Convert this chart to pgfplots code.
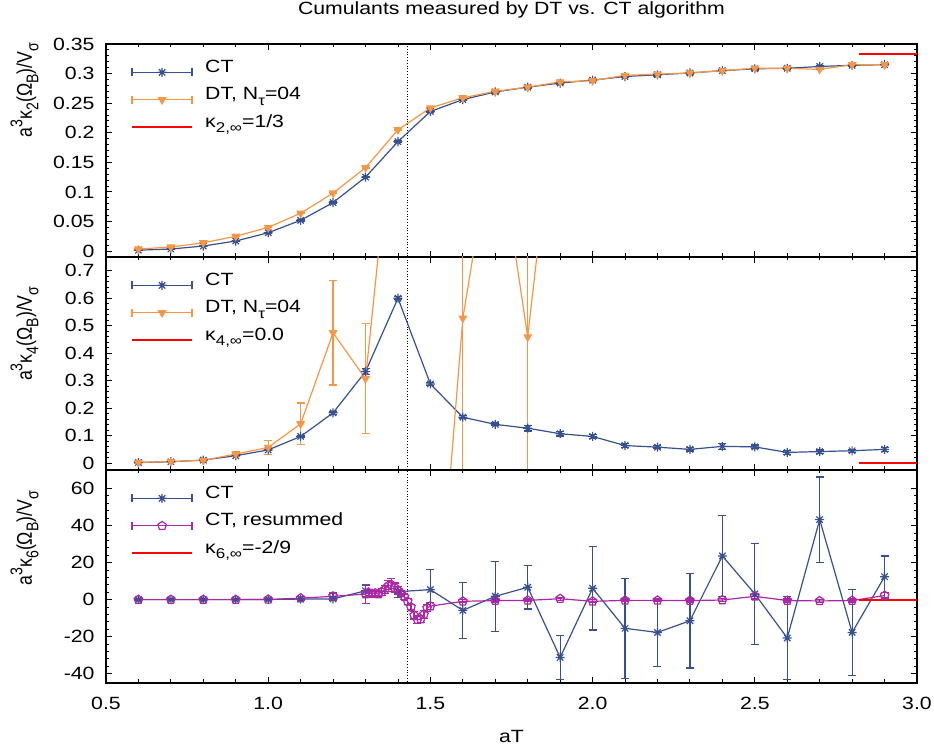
\documentclass[border=0pt]{standalone}
\usepackage{fontspec}
\setmainfont{Liberation Sans}[FakeStretch=1.2]
\newfontfamily\yfont{Liberation Sans}
\usepackage{pgfplots}
\pgfplotsset{compat=1.18}
\definecolor{ctblue}{RGB}{55,80,145}
\definecolor{dtorange}{RGB}{247,150,68}
\definecolor{respurple}{RGB}{170,40,165}
\newcommand\sups[1]{\raisebox{0.45em}{\scalebox{0.8}{#1}}}
\newcommand\subs[1]{\raisebox{-0.3em}{\scalebox{0.8}{#1}}}
\pgfdeclareplotmark{gstar}{%
  \pgfpathmoveto{\pgfqpoint{-\pgfplotmarksize}{0pt}}\pgfpathlineto{\pgfqpoint{\pgfplotmarksize}{0pt}}%
  \pgfpathmoveto{\pgfqpoint{0pt}{-\pgfplotmarksize}}\pgfpathlineto{\pgfqpoint{0pt}{\pgfplotmarksize}}%
  \pgfpathmoveto{\pgfqpoint{-0.707\pgfplotmarksize}{-0.707\pgfplotmarksize}}\pgfpathlineto{\pgfqpoint{0.707\pgfplotmarksize}{0.707\pgfplotmarksize}}%
  \pgfpathmoveto{\pgfqpoint{-0.707\pgfplotmarksize}{0.707\pgfplotmarksize}}\pgfpathlineto{\pgfqpoint{0.707\pgfplotmarksize}{-0.707\pgfplotmarksize}}%
  \pgfusepathqstroke}
\pgfplotsset{
  errleg/.style={legend image code/.code={%
    \draw[##1, mark repeat=2, mark phase=2] plot coordinates {(0bp,0bp) (30bp,0bp) (60bp,0bp)};
    \draw[##1] (0bp,-4bp) -- (0bp,4bp) (60bp,-4bp) -- (60bp,4bp);}},
  lineleg/.style={legend image code/.code={\draw[##1] (0bp,0bp) -- (60bp,0bp);}},
  errb/.style={error bars/y dir=both, error bars/y explicit,
    error bars/error bar style={line width=1.2bp},
    error bars/error mark options={rotate=90, mark size=4bp, line width=1.2bp}},
  ctstyle/.style={ctblue, line width=1.2bp, mark=gstar, mark size=4.5bp, errleg, errb},
  dtstyle/.style={dtorange, line width=1.2bp, mark=triangle*, mark size=4bp, mark options={rotate=180}, errleg, errb},
  resstyle/.style={respurple, line width=1.2bp, mark=pentagon, mark size=4.5bp, errleg, errb},
  limstyle/.style={red, line width=2.2bp, lineleg},
  every axis/.append style={
    scale only axis, width=811bp, height=213bp,
    xmin=0.5, xmax=3.0,
    xtick={0.5,1,1.5,2,2.5,3}, minor x tick num=4, minor y tick num=4,
    tick align=inside, major tick length=6bp, minor tick length=3.5bp,
    axis line style={line width=1.3bp},
    every tick/.style={black, line width=0.9bp},
    scaled ticks=false,
    /pgf/number format/assume math mode=true,
    yticklabel style={/pgf/number format/fixed, xshift=-8bp},
    xticklabel style={/pgf/number format/fixed, /pgf/number format/fixed zerofill, /pgf/number format/precision=1, yshift=-11bp},
    legend cell align=left,
    legend style={draw=none, fill=none, inner sep=0pt, outer sep=0pt,
      at={(axis description cs:0,1)}, anchor=north west, xshift=25bp, yshift=-14.6bp,
      row sep=0pt, nodes={inner sep=0pt, outer sep=0pt, text height=13.75bp, text depth=13.75bp},
      /tikz/every odd column/.style={column sep=12bp}},
    ylabel style={anchor=base, yshift=74bp},
  }
}
\begin{document}
\begin{tikzpicture}[font=\fontsize{17.7bp}{21bp}\selectfont]
% ---------------- top panel ----------------
\begin{axis}[name=top,
  ymin=-0.01, ymax=0.35, ytick={0,0.05,0.1,0.15,0.2,0.25,0.3,0.35},
  xticklabels={},
  title={Cumulants measured by DT vs. CT algorithm},
  title style={at={(axis description cs:0.5,1)}, anchor=base, yshift=24bp},
  ylabel={\yfont\scalebox{1}[1.2]{a\sups{3}κ\subs{2}(Ω\subs{B})/V\subs{σ}}},
  ylabel style={at={(axis description cs:0,0.784)}},
]
\addplot[black, dotted, line width=0.8bp, forget plot] coordinates {(1.428,-1) (1.428,1)};
\addplot[ctstyle] coordinates {
 (0.6,0.0015) +- (0,0.0005) (0.7,0.0035) +- (0,0.0005) (0.8,0.0085) +- (0,0.0008) (0.9,0.017) +- (0,0.001)
 (1.0,0.031) +- (0,0.001) (1.1,0.052) +- (0,0.001) (1.2,0.082) +- (0,0.001) (1.3,0.125) +- (0,0.001)
 (1.4,0.185) +- (0,0.002) (1.5,0.236) +- (0,0.002) (1.6,0.256) +- (0,0.002) (1.7,0.269) +- (0,0.002)
 (1.8,0.277) +- (0,0.002) (1.9,0.284) +- (0,0.002) (2.0,0.289) +- (0,0.002) (2.1,0.295) +- (0,0.002)
 (2.2,0.298) +- (0,0.002) (2.3,0.301) +- (0,0.002) (2.4,0.305) +- (0,0.002) (2.5,0.308) +- (0,0.002)
 (2.6,0.309) +- (0,0.002) (2.7,0.312) +- (0,0.002) (2.8,0.314) +- (0,0.002) (2.9,0.315) +- (0,0.002)};
\addlegendentry{CT}
\addplot[dtstyle] coordinates {
 (0.6,0.0035) +- (0,0.0005) (0.7,0.0068) +- (0,0.0005) (0.8,0.014) +- (0,0.0005) (0.9,0.025) +- (0,0.0005)
 (1.0,0.040) +- (0,0.0005) (1.1,0.064) +- (0,0.0005) (1.2,0.098) +- (0,0.0005) (1.3,0.141) +- (0,0.0005)
 (1.4,0.205) +- (0,0.0005) (1.5,0.242) +- (0,0.0005) (1.6,0.259) +- (0,0.0005) (1.7,0.270) +- (0,0.0005)
 (1.8,0.277) +- (0,0.0005) (1.9,0.286) +- (0,0.0005) (2.0,0.288) +- (0,0.0005) (2.1,0.297) +- (0,0.0005)
 (2.2,0.299) +- (0,0.0005) (2.3,0.301) +- (0,0.0005) (2.4,0.305) +- (0,0.0005) (2.5,0.309) +- (0,0.0005)
 (2.6,0.309) +- (0,0.0005) (2.7,0.307) +- (0,0.0005) (2.8,0.315) +- (0,0.0005) (2.9,0.315) +- (0,0.0005)};
\addlegendentry{DT, N\subs{τ}=04}
\addplot[limstyle] coordinates {(2.82,0.3333) (3.0,0.3333)};
\addlegendentry{κ\subs{2,∞}=1/3}
\end{axis}
% ---------------- middle panel ----------------
\begin{axis}[name=mid, at={(top.south west)}, anchor=north west,
  ymin=-0.025, ymax=0.75, ytick={0,0.1,0.2,0.3,0.4,0.5,0.6,0.7},
  xticklabels={},
  ylabel={\yfont\scalebox{1}[1.2]{a\sups{3}κ\subs{4}(Ω\subs{B})/V\subs{σ}}},
  ylabel style={at={(axis description cs:0,0.64)}},
]
\addplot[black, dotted, line width=0.8bp, forget plot] coordinates {(1.428,-1) (1.428,1)};
\addplot[ctstyle] coordinates {
 (0.6,0.0024) +- (0,0.001) (0.7,0.005) +- (0,0.001) (0.8,0.011) +- (0,0.002) (0.9,0.027) +- (0,0.003)
 (1.0,0.048) +- (0,0.003) (1.1,0.097) +- (0,0.004) (1.2,0.183) +- (0,0.005) (1.3,0.333) +- (0,0.01)
 (1.4,0.600) +- (0,0.006) (1.5,0.288) +- (0,0.006) (1.6,0.167) +- (0,0.006) (1.7,0.141) +- (0,0.005)
 (1.8,0.127) +- (0,0.01) (1.9,0.107) +- (0,0.008) (2.0,0.097) +- (0,0.008) (2.1,0.064) +- (0,0.008)
 (2.2,0.058) +- (0,0.006) (2.3,0.050) +- (0,0.006) (2.4,0.061) +- (0,0.01) (2.5,0.059) +- (0,0.007)
 (2.6,0.039) +- (0,0.007) (2.7,0.042) +- (0,0.006) (2.8,0.045) +- (0,0.006) (2.9,0.050) +- (0,0.007)};
\addlegendentry{CT}
\addplot[dtstyle] coordinates {
 (0.6,0.0024) +- (0,0.002) (0.7,0.006) +- (0,0.003) (0.8,0.010) +- (0,0.004) (0.9,0.033) +- (0,0.008)
 (1.0,0.057) +- (0,0.025) (1.1,0.143) +- (0,0.076) (1.2,0.474) +- (0,0.19) (1.3,0.307) +- (0,0.2)
 (1.4,1.45) +- (0,0.3)};
\addlegendentry{DT, N\subs{τ}=04}
\addplot[forget plot, dtstyle] coordinates {
 (1.5,-0.94) +- (0,0.3) (1.6,0.527) +- (0,2) (1.7,1.25) +- (0,0.3) (1.8,0.459) +- (0,2) (1.9,1.5) +- (0,0.3)};
\addplot[limstyle] coordinates {(2.82,0) (3.0,0)};
\addlegendentry{κ\subs{4,∞}=0.0}
\end{axis}
% ---------------- bottom panel ----------------
\begin{axis}[name=bot, at={(mid.south west)}, anchor=north west,
  ymin=-45, ymax=70, ytick={-40,-20,0,20,40,60},
  xlabel={aT}, xlabel style={at={(axis description cs:0.5,0)}, anchor=base, yshift=-60bp},
  ylabel={\yfont\scalebox{1}[1.2]{a\sups{3}κ\subs{6}(Ω\subs{B})/V\subs{σ}}},
  ylabel style={at={(axis description cs:0,0.68)}},
]
\addplot[black, dotted, line width=0.8bp, forget plot] coordinates {(1.428,-100) (1.428,100)};
\addplot[ctstyle] coordinates {
 (0.6,0) +- (0,0.3) (0.7,0) +- (0,0.3) (0.8,0) +- (0,0.3) (0.9,0) +- (0,0.3) (1.0,0.1) +- (0,0.3)
 (1.1,0.3) +- (0,0.5) (1.2,0.4) +- (0,1.0) (1.3,4.8) +- (0,3) (1.4,4.3) +- (0,3) (1.5,5.4) +- (0,10.8)
 (1.6,-5.8) +- (0,15.1) (1.7,1.8) +- (0,18.9) (1.8,6.7) +- (0,11.8) (1.9,-31.2) +- (0,11.9)
 (2.0,6.1) +- (0,22.5) (2.1,-15.5) +- (0,27) (2.2,-17.7) +- (0,18.5) (2.3,-11.4) +- (0,25.5)
 (2.4,23.6) +- (0,21.8) (2.5,3.1) +- (0,27.2) (2.6,-20.7) +- (0,22.5) (2.7,43.2) +- (0,23)
 (2.8,-17.7) +- (0,23.2) (2.9,12.4) +- (0,11.2)};
\addlegendentry{CT}
\addplot[resstyle] coordinates {
 (0.6,0) +- (0,0.3) (0.7,0) +- (0,0.3) (0.8,0) +- (0,0.3) (0.9,0) +- (0,0.3) (1.0,0.1) +- (0,0.3)
 (1.1,0.8) +- (0,0.8) (1.2,1.8) +- (0,1.8)
 (1.30,3.0) +- (0,5) (1.31,3.8) +- (0,1.5) (1.32,3.2) +- (0,1.5) (1.33,3.5) +- (0,1.5) (1.34,3.0) +- (0,1.5)
 (1.35,4.2) +- (0,2) (1.36,5.5) +- (0,2) (1.37,7.5) +- (0,3) (1.38,8.0) +- (0,3.5) (1.39,6.5) +- (0,2.5)
 (1.40,5.0) +- (0,2) (1.41,3.5) +- (0,1.5) (1.42,1.5) +- (0,1.5) (1.43,-1.0) +- (0,1.5) (1.44,-4.0) +- (0,1.5)
 (1.45,-8.5) +- (0,2) (1.46,-10.8) +- (0,2) (1.47,-10.5) +- (0,2) (1.48,-8.0) +- (0,2) (1.49,-4.5) +- (0,2)
 (1.50,-3.5) +- (0,2)
 (1.6,-0.9) +- (0,0.8) (1.7,-0.5) +- (0,0.8) (1.8,-0.4) +- (0,0.8) (1.9,0.5) +- (0,0.8)
 (2.0,-0.9) +- (0,0.8) (2.1,-0.4) +- (0,0.8) (2.2,-0.4) +- (0,0.8) (2.3,-0.5) +- (0,0.8)
 (2.4,-0.2) +- (0,0.8) (2.5,1.8) +- (0,1.5) (2.6,-0.5) +- (0,0.8) (2.7,-0.7) +- (0,0.8)
 (2.8,-0.5) +- (0,0.8) (2.9,2.2) +- (0,1.8)};
\addlegendentry{CT, resummed}
\addplot[limstyle] coordinates {(2.82,-0.2222) (3.0,-0.2222)};
\addlegendentry{κ\subs{6,∞}=-2/9}
\end{axis}
\pgfresetboundingbox
\path[use as bounding box] ([xshift=-106bp,yshift=-68bp]bot.south west) rectangle ([xshift=17bp,yshift=44bp]top.north east);
\end{tikzpicture}
\end{document}
